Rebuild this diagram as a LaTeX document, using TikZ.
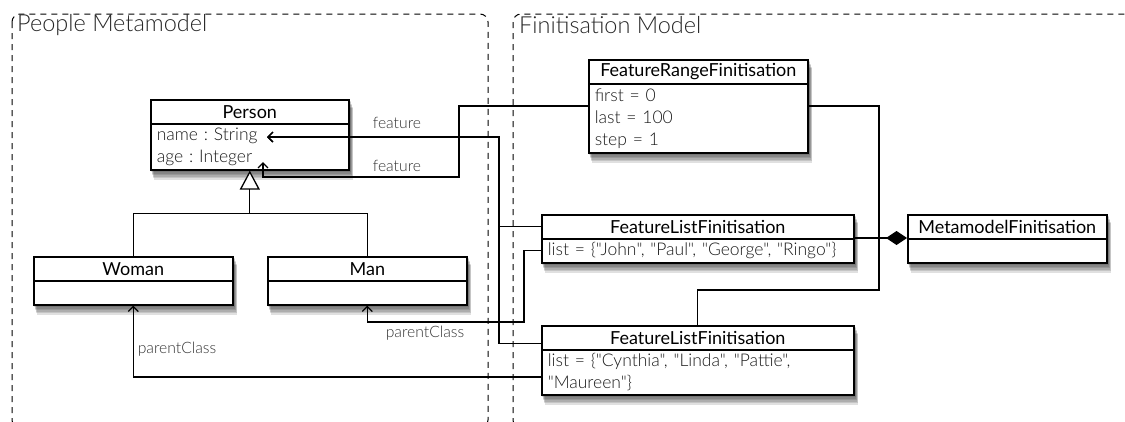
\documentclass[tikz,border=0pt]{standalone}
\usepackage{fontspec}
\setmainfont{Lato}
\newfontfamily\lightfont{Lato Light}
\usetikzlibrary{arrows.meta,calc}
\pgfdeclarelayer{shadowlayer}
\pgfsetlayers{shadowlayer,main}

% soft shadow below a class box, from its top part #1 to its bottom part #2
\newcommand\boxshadow[2]{%
  \foreach \dx/\dy in {1/1.5,1.5/3,2/4.5,2.5/6,3/7.5,3.5/9}{%
    \fill[black, opacity=0.12] ($(#1.north west)+(\dx,\dy)$) rectangle ($(#2.south east)+(\dx,\dy)$);}}

\begin{document}
\begin{tikzpicture}[x=1pt,y=-1pt,
  frame/.style={draw=black, line width=1pt, dash pattern=on 6pt off 5pt, rounded corners=8pt},
  frametitle/.style={anchor=west, inner sep=0pt, text=black!85, font=\lightfont\fontsize{23.5}{26}\selectfont},
  boxpart/.style={draw=black, line width=1.6pt, fill=white, anchor=north west},
  hdr/.style={boxpart, inner sep=0pt, minimum height=24pt, text=black,
    font=\fontsize{18}{21}\selectfont},
  attrs/.style={boxpart, inner xsep=6pt, inner ysep=0pt, align=left, text=black!90,
    font=\lightfont\fontsize{17.5}{22}\selectfont\frenchspacing},
  conn/.style={draw=black, line width=1.3pt},
  assoc/.style={conn, -{Straight Barb[length=5pt,width=10pt,line width=1.3pt]}},
  gen/.style={conn, -{Triangle[open,length=19pt,width=20pt,line width=1.3pt,fill=white]}},
  comp/.style={conn, -{Diamond[length=21pt,width=14pt]}},
  lbl/.style={inner sep=0pt, text=black!80, font=\lightfont\fontsize{15.7}{18}\selectfont}
]
\useasboundingbox (0,0) rectangle (1125,421);

% package frames
\draw[frame] (12,14) rectangle (488,428);
\draw[frame] (513,14) rectangle (1140,428);
\node[frametitle] (pmTitle) at (17,25) {People Metamodel};
\node[frametitle] (fmTitle) at (519,25) {Finitisation Model};

% People metamodel classes
\node[hdr, minimum width=198pt] (personH) at (150,99) {Person};
\node[attrs, minimum height=46pt, text width=186pt] (personB) at (150,123) {name : String\\age : Integer};
\node[hdr, minimum width=199pt] (womanH) at (33,256) {Woman};
\node[boxpart, minimum width=199pt, minimum height=24pt] (womanB) at (33,280) {};
\node[hdr, minimum width=199pt] (manH) at (267,256) {Man};
\node[boxpart, minimum width=199pt, minimum height=24pt] (manB) at (267,280) {};

% Finitisation model classes
\node[hdr, minimum width=219pt] (frfH) at (588,59) {FeatureRangeFinitisation};
\node[attrs, minimum height=69pt, text width=207pt] (frfB) at (588,83) {first = 0\\last = 100\\step = 1};
\node[hdr, minimum width=312pt] (flfaH) at (541,214) {FeatureListFinitisation};
\node[attrs, minimum height=24pt, text width=300pt] (flfaB) at (541,238) {list = \{"John", "Paul", "George", "Ringo"\}};
\node[hdr, minimum width=312pt] (flfbH) at (541,325) {FeatureListFinitisation};
\node[attrs, minimum height=45pt, text width=300pt] (flfbB) at (541,349) {list = \{"Cynthia", "Linda", "Pattie",\\"Maureen"\}};
\node[hdr, minimum width=199pt] (mfH) at (907,214) {MetamodelFinitisation};
\node[boxpart, minimum width=199pt, minimum height=24pt] (mfB) at (907,238) {};

% shadows behind every class box
\begin{pgfonlayer}{shadowlayer}
  \boxshadow{personH}{personB}
  \boxshadow{womanH}{womanB}
  \boxshadow{manH}{manB}
  \boxshadow{frfH}{frfB}
  \boxshadow{flfaH}{flfaB}
  \boxshadow{flfbH}{flfbB}
  \boxshadow{mfH}{mfB}
\end{pgfonlayer}

% attribute end points inside Person
\coordinate (nameTip) at ($(personB.north west)+(117,14)$);
\coordinate (ageTip) at ($(personB.north west)+(113,39)$);
\coordinate (genJoin) at ($(personB.south)+(0,43)$);

% generalisation
\draw[conn] (womanH.north) |- (genJoin) -| (manH.north);
\draw[gen] (genJoin) -- (personB.south);

% feature references
\draw[assoc] (flfaH.west) -- ++(-42,0) |- (nameTip);
\draw[assoc] ($(flfbH.south west)+(0,-7)$) -- ++(-42,0) |- (nameTip);
\draw[assoc] ($(frfB.north west)+(0,23)$) -- (459,106) |- ($(ageTip)+(0,15)$) -- (ageTip);
\node[lbl] (featA) at (397,123) {feature};
\node[lbl] (featB) at (397,166) {feature};

% parent class references
\draw[assoc] (flfaB.west) -| (524,322) -| (manB.south);
\draw[assoc] ($(flfbB.north west)+(0,28)$) -| (womanB.south);
\node[lbl] (pcMan) at (425,333) {parentClass};
\node[lbl] (pcWoman) at (177,349) {parentClass};

% composition into the metamodel finitisation
\draw[comp] (flfaB.north east) -- (mfB.north west);
\draw[conn] ($(frfB.north east)+(0,23)$) -| (879,290) -| (flfbH.north);
\end{tikzpicture}
\end{document}
